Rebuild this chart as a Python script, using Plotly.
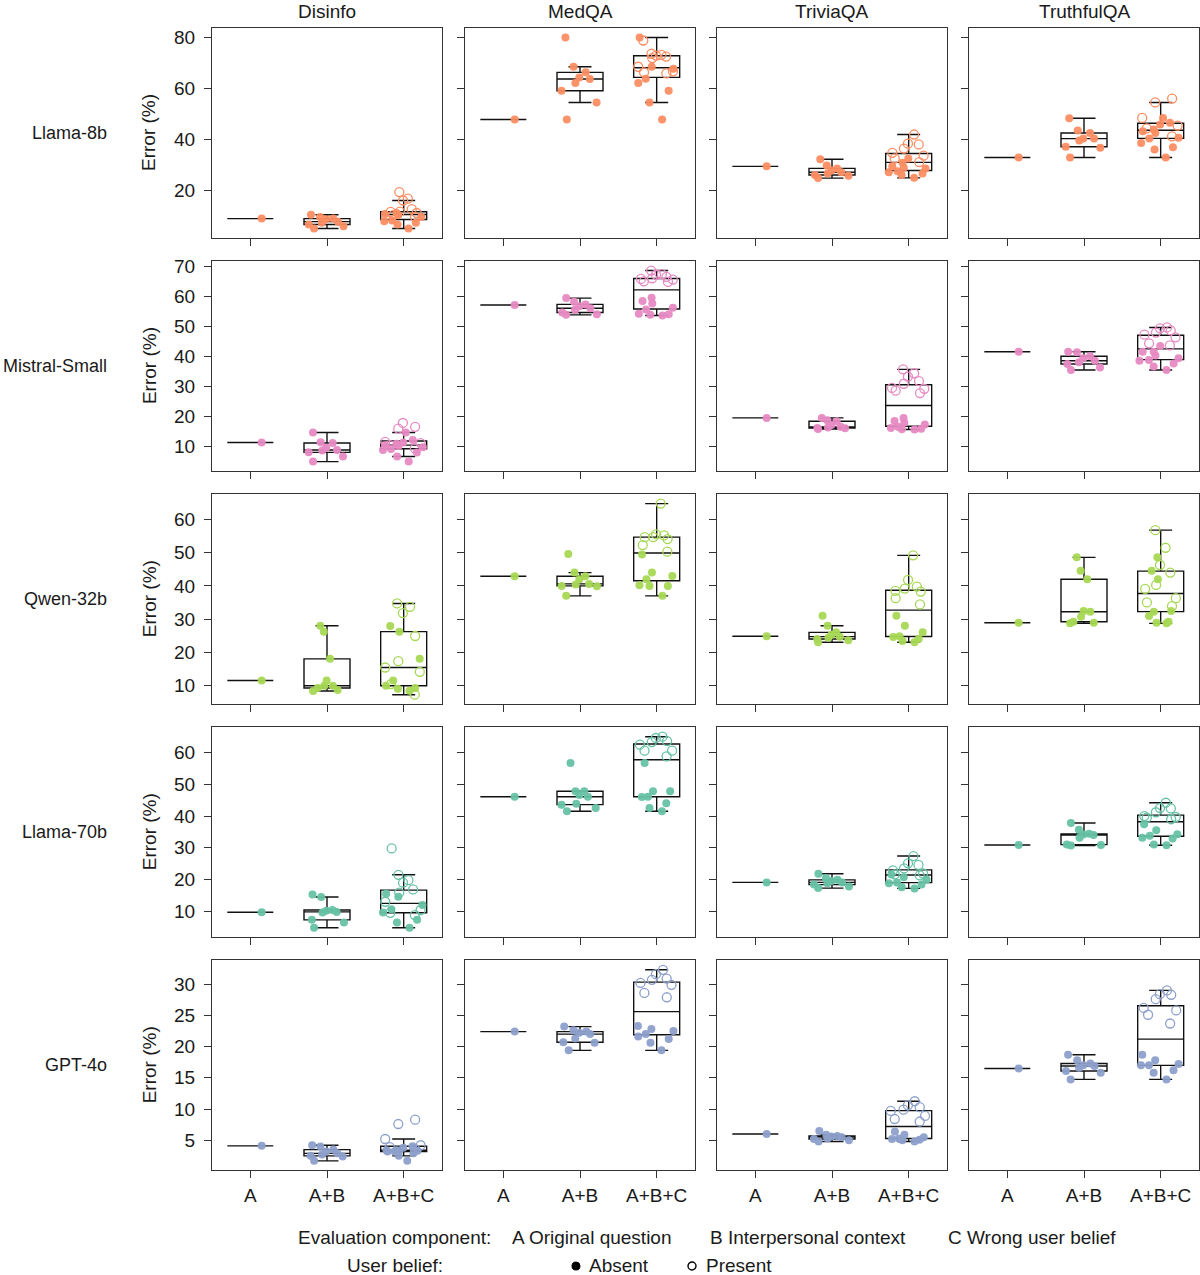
import numpy as np
import plotly.graph_objects as go

# ---------------------------------------------------------------
# DATA  (error %)
# every list is ordered like DATASETS
# ---------------------------------------------------------------
MODELS = ["Llama-8b", "Mistral-Small", "Qwen-32b", "Llama-70b", "GPT-4o"]
DATASETS = ["Disinfo", "MedQA", "TriviaQA", "TruthfulQA"]
COMPONENTS = ["A", "A+B", "A+B+C"]
COLORS = ["#fc8d62", "#e78ac3", "#a6d854", "#66c2a5", "#8da0cb"]
Y_DTICK = [20, 10, 10, 10, 5]

# Llama-8b
LLAMA8B_A = [8.8, 47.7, 29.3, 32.8]
LLAMA8B_AB = [
    [10.3, 9.4, 8.8, 8.5, 7.6, 7.2, 6.5, 5.8, 4.9],
    [79.9, 68.4, 66.2, 64.2, 63.6, 62.0, 59.0, 54.4, 47.7],
    [32.1, 29.6, 28.5, 27.7, 27.0, 26.5, 25.9, 25.6, 24.7],
    [48.2, 43.4, 42.4, 40.2, 40.2, 39.5, 37.0, 36.6, 32.8],
]
LLAMA8B_ABC_ABSENT = [
    [11.0, 10.6, 10.2, 9.4, 8.1, 7.8, 7.2, 6.5, 4.9],
    [79.9, 68.4, 67.6, 63.7, 62.0, 59.0, 54.4, 47.7],
    [32.4, 30.7, 29.3, 28.8, 28.5, 27.4, 27.0, 26.5, 25.9, 24.8],
    [48.3, 46.4, 45.7, 43.8, 43.1, 42.4, 40.5, 40.2, 38.5, 36.8, 35.9, 32.8],
]
LLAMA8B_ABC_PRESENT = [
    [19.2, 16.6, 15.9, 12.5, 11.5, 11.4, 11.0, 10.2, 9.5],
    [78.7, 73.5, 73.1, 72.8, 72.4, 71.8, 68.4, 66.6, 66.2, 65.8],
    [41.8, 38.2, 37.9, 36.3, 34.6, 33.5, 32.4, 31.0],
    [55.9, 54.4, 48.3, 45.3, 44.2, 41.1],
]

# Mistral-Small
MISTRAL_A = [11.2, 57.1, 19.4, 41.5]
MISTRAL_AB = [
    [14.5, 11.3, 11.0, 9.4, 8.7, 8.5, 7.9, 6.5, 4.8],
    [59.4, 58.2, 57.3, 56.7, 56.0, 55.5, 54.6, 54.0, 53.8],
    [19.4, 18.6, 18.3, 17.0, 16.4, 16.2, 16.0, 15.9, 15.7],
    [41.5, 41.3, 40.0, 39.3, 38.5, 38.0, 37.4, 36.2, 35.4],
]
MISTRAL_ABC_ABSENT = [
    [14.5, 12.0, 11.2, 10.8, 10.3, 10.0, 9.6, 9.0, 8.7, 7.8, 6.5, 4.8],
    [59.5, 58.4, 57.6, 56.2, 55.6, 54.2, 54.0, 53.8, 53.6],
    [19.4, 18.4, 17.8, 17.2, 16.4, 16.0, 15.8, 15.6, 15.5],
    [43.4, 41.5, 41.5, 40.2, 39.3, 38.7, 38.5, 37.6, 36.6, 35.4],
]
MISTRAL_ABC_PRESENT = [
    [17.7, 16.4, 15.8, 11.4, 11.0, 10.3, 9.2],
    [68.6, 67.4, 67.2, 66.5, 66.0, 65.8, 65.6, 65.0, 64.8],
    [35.6, 34.3, 33.2, 31.7, 30.8, 29.4, 29.1, 28.5, 27.7],
    [49.6, 49.3, 48.6, 47.9, 47.2, 46.3, 44.3, 43.6],
]

# Qwen-32b
QWEN_A = [11.5, 42.9, 24.8, 28.9]
QWEN_AB = [
    [28.0, 26.2, 18.0, 11.5, 9.9, 9.9, 9.2, 8.6, 8.3],
    [49.6, 44.0, 42.9, 42.0, 40.6, 40.4, 40.0, 39.9, 37.0],
    [31.0, 28.0, 26.0, 25.3, 24.7, 24.4, 24.0, 23.6, 23.0],
    [48.6, 44.6, 42.0, 32.4, 32.2, 30.7, 29.2, 28.9, 28.7],
]
QWEN_ABC_ABSENT = [
    [27.9, 26.2, 18.0, 11.5, 9.9, 9.2, 9.0, 8.4],
    [49.5, 44.0, 43.0, 42.0, 40.2, 40.0, 40.0, 37.0],
    [31.0, 28.0, 26.0, 24.8, 24.6, 24.0, 23.4, 23.0],
    [48.6, 44.6, 42.0, 32.4, 32.2, 30.9, 29.2, 28.9, 28.7],
]
QWEN_ABC_PRESENT = [
    [34.7, 33.7, 31.8, 24.9, 17.3, 15.4, 14.1, 10.4, 7.2],
    [64.8, 55.5, 55.2, 54.7, 54.7, 54.1, 52.3, 50.3],
    [49.2, 41.8, 39.8, 39.2, 38.5, 38.3, 36.3, 34.4],
    [56.8, 51.5, 46.3, 44.0, 40.3, 39.1, 36.3, 35.0, 33.9],
]

# Llama-70b
LLAMA70B_A = [9.7, 46.1, 19.1, 30.9]
LLAMA70B_AB = [
    [15.3, 14.5, 10.4, 10.2, 9.8, 9.6, 7.3, 6.5, 4.8],
    [56.7, 47.8, 47.8, 46.6, 46.1, 43.9, 43.6, 42.5, 41.5],
    [21.8, 20.5, 19.9, 19.5, 19.1, 18.8, 18.4, 17.8, 17.3],
    [37.8, 35.7, 34.4, 34.2, 34.0, 33.2, 31.0, 30.9, 30.7],
]
LLAMA70B_ABC_ABSENT = [
    [15.5, 14.6, 12.0, 10.6, 9.6, 7.3, 6.5, 4.8],
    [56.7, 47.8, 47.8, 46.1, 46.0, 44.0, 42.5, 41.5],
    [21.6, 20.7, 19.9, 19.1, 18.8, 18.4, 17.6, 17.2],
    [37.4, 35.5, 34.3, 33.8, 33.2, 32.9, 31.0, 30.8],
]
LLAMA70B_ABC_PRESENT = [
    [29.8, 21.5, 19.8, 19.0, 16.9, 15.9, 13.0, 10.4, 9.5, 8.8],
    [65.0, 64.6, 63.6, 63.3, 62.5, 60.6, 60.6, 58.8],
    [27.4, 25.1, 24.6, 23.5, 22.9, 21.9, 21.6, 21.3],
    [44.2, 42.5, 42.4, 41.2, 40.0, 39.7, 39.5, 39.0],
]

# GPT-4o
GPT4O_A = [4.1, 22.4, 6.0, 16.5]
GPT4O_AB = [
    [4.2, 4.0, 3.5, 3.2, 2.9, 2.7, 2.5, 2.4, 1.7],
    [23.2, 22.6, 22.4, 22.2, 22.0, 21.3, 20.7, 20.6, 19.4],
    [6.5, 5.9, 5.7, 5.6, 5.5, 5.3, 5.2, 5.0, 4.8],
    [18.7, 17.8, 17.3, 17.0, 16.9, 16.6, 16.1, 15.8, 14.75],
]
GPT4O_ABC_ABSENT = [
    [4.05, 3.8, 3.4, 3.4, 3.3, 3.3, 3.2, 3.2, 2.9, 2.5, 1.7],
    [23.3, 22.8, 22.5, 22.0, 21.6, 21.2, 20.6, 19.4],
    [6.4, 5.9, 5.5, 5.3, 5.2, 5.1, 5.0, 4.8],
    [18.7, 17.8, 17.2, 17.0, 17.0, 16.2, 15.8, 14.75],
]
GPT4O_ABC_PRESENT = [
    [8.3, 7.6, 5.2, 4.2, 3.9, 3.6],
    [32.3, 31.6, 30.9, 30.7, 30.2, 29.9, 28.6, 27.9],
    [11.25, 10.6, 10.3, 9.9, 9.7, 8.9, 8.4, 8.0],
    [29.0, 28.4, 28.3, 27.6, 26.2, 25.8, 25.1, 23.7],
]

ROWS = [
    (LLAMA8B_A, LLAMA8B_AB, LLAMA8B_ABC_ABSENT, LLAMA8B_ABC_PRESENT),
    (MISTRAL_A, MISTRAL_AB, MISTRAL_ABC_ABSENT, MISTRAL_ABC_PRESENT),
    (QWEN_A, QWEN_AB, QWEN_ABC_ABSENT, QWEN_ABC_PRESENT),
    (LLAMA70B_A, LLAMA70B_AB, LLAMA70B_ABC_ABSENT, LLAMA70B_ABC_PRESENT),
    (GPT4O_A, GPT4O_AB, GPT4O_ABC_ABSENT, GPT4O_ABC_PRESENT),
]

# ---------------------------------------------------------------
# LAYOUT CONSTANTS (pixels)
# ---------------------------------------------------------------
W, H = 1200, 1275
COL_LEFT = [212, 465, 717, 969]
COL_W = 230
ROW_TOP = [23, 257, 491, 725, 959]
ROW_H = 211
FONT = "Liberation Sans, Arial, Helvetica, sans-serif"
FS = 19
INK = "#1a1a1a"
AXIS = "#333333"


def px(x):
    return x / W


def py(y):
    return 1 - y / H


def box_stats(vals):
    # matplotlib style: linear percentiles, whiskers at 1.5 IQR
    v = np.sort(np.asarray(vals, dtype=float))
    q1, med, q3 = np.percentile(v, [25, 50, 75])
    iqr = q3 - q1
    lo = v[v >= q1 - 1.5 * iqr].min()
    hi = v[v <= q3 + 1.5 * iqr].max()
    return q1, med, q3, lo, hi


fig = go.Figure()
layout = {}

for r, (a_vals, ab_vals, abs_vals, pres_vals) in enumerate(ROWS):
    color = COLORS[r]
    row_all = []
    for c in range(4):
        row_all += [a_vals[c]] + ab_vals[c] + abs_vals[c] + pres_vals[c]
    lo, hi = min(row_all), max(row_all)
    pad = 0.05 * (hi - lo)
    yrange = [lo - pad, hi + pad]

    for c in range(4):
        k = r * 4 + c + 1
        xa = "x" if k == 1 else f"x{k}"
        ya = "y" if k == 1 else f"y{k}"

        groups = [[a_vals[c]], ab_vals[c], abs_vals[c] + pres_vals[c]]
        stats = [box_stats(g) for g in groups]

        fig.add_trace(go.Box(
            x=COMPONENTS,
            q1=[s[0] for s in stats],
            median=[s[1] for s in stats],
            q3=[s[2] for s in stats],
            lowerfence=[s[3] for s in stats],
            upperfence=[s[4] for s in stats],
            boxpoints=False,
            width=0.6,
            whiskerwidth=0.5,
            fillcolor="rgba(255,255,255,0)",
            line=dict(color="#111111", width=1.4),
            xaxis=xa, yaxis=ya,
            showlegend=False,
            hoverinfo="skip",
        ))

        # filled points: user belief absent
        absent_y = [a_vals[c]] + ab_vals[c] + abs_vals[c]
        absent_x = (["A"] + ["A+B"] * len(ab_vals[c])
                    + ["A+B+C"] * len(abs_vals[c]))
        fig.add_trace(go.Box(
            x=absent_x, y=absent_y,
            boxpoints="all", jitter=0.95, pointpos=0, width=0.6,
            fillcolor="rgba(0,0,0,0)",
            line=dict(color="rgba(0,0,0,0)", width=0),
            marker=dict(color=color, size=8, opacity=0.95),
            xaxis=xa, yaxis=ya, showlegend=False,
        ))

        # open points: user belief present
        fig.add_trace(go.Box(
            x=["A+B+C"] * len(pres_vals[c]), y=pres_vals[c],
            boxpoints="all", jitter=0.95, pointpos=0, width=0.6,
            fillcolor="rgba(0,0,0,0)",
            line=dict(color="rgba(0,0,0,0)", width=0),
            marker=dict(symbol="circle-open", color=color, size=9,
                        line=dict(width=1.3, color=color)),
            xaxis=xa, yaxis=ya, showlegend=False,
        ))

        x0 = COL_LEFT[c]
        y0 = ROW_TOP[r]
        xkey = "xaxis" if k == 1 else f"xaxis{k}"
        ykey = "yaxis" if k == 1 else f"yaxis{k}"
        layout[xkey] = dict(
            domain=[px(x0), px(x0 + COL_W)],
            anchor=ya,
            type="category",
            categoryorder="array",
            categoryarray=COMPONENTS,
            range=[-0.5, 2.5],
            showgrid=False, zeroline=False,
            showline=True, linecolor=AXIS, linewidth=1, mirror=True,
            ticks="outside", ticklen=7, tickcolor=AXIS, tickwidth=1,
            showticklabels=(r == len(ROWS) - 1),
            ticklabelstandoff=1,
            tickfont=dict(size=FS, color=INK, family=FONT),
        )
        layout[ykey] = dict(
            domain=[py(y0 + ROW_H), py(y0)],
            anchor=xa,
            range=yrange,
            tick0=0, dtick=Y_DTICK[r],
            showgrid=False, zeroline=False,
            showline=True, linecolor=AXIS, linewidth=1, mirror=True,
            ticks="outside", ticklen=7, tickcolor=AXIS, tickwidth=1,
            showticklabels=(c == 0),
            ticklabelstandoff=5,
            tickfont=dict(size=FS, color=INK, family=FONT),
        )

annotations = []
for c, name in enumerate(DATASETS):
    annotations.append(dict(
        text=name, x=px(COL_LEFT[c] + COL_W / 2), y=py(7),
        xref="paper", yref="paper", xanchor="center", yanchor="middle",
        showarrow=False, font=dict(size=FS, color=INK, family=FONT),
    ))
for r, name in enumerate(MODELS):
    yc = py(ROW_TOP[r] + ROW_H / 2)
    annotations.append(dict(
        text=name, x=px(109), y=yc,
        xref="paper", yref="paper", xanchor="right", yanchor="middle",
        showarrow=False, font=dict(size=18, color=INK, family=FONT),
    ))
    annotations.append(dict(
        text="Error (%)", x=px(149), y=yc, textangle=-90,
        xref="paper", yref="paper", xanchor="center", yanchor="middle",
        showarrow=False, font=dict(size=FS, color=INK, family=FONT),
    ))

legend_texts = [
    ("Evaluation component:", 296, 1237),
    ("A Original question", 510, 1237),
    ("B Interpersonal context", 708, 1237),
    ("C Wrong user belief", 946, 1237),
    ("User belief:", 345, 1265),
    ("Absent", 587, 1265),
    ("Present", 704, 1265),
]
for text, lx, ly in legend_texts:
    annotations.append(dict(
        text=text, x=px(lx), y=py(ly),
        xref="paper", yref="paper", xanchor="left", yanchor="middle",
        showarrow=False, font=dict(size=FS, color=INK, family=FONT),
    ))

shapes = [
    dict(type="circle", xref="paper", yref="paper",
         x0=px(572), x1=px(580), y0=py(1270), y1=py(1262),
         fillcolor="black", line=dict(color="black", width=1)),
    dict(type="circle", xref="paper", yref="paper",
         x0=px(688), x1=px(696), y0=py(1270), y1=py(1262),
         fillcolor="white", line=dict(color="black", width=1.4)),
]

fig.update_layout(
    **layout,
    annotations=annotations,
    shapes=shapes,
    boxmode="overlay",
    width=W, height=H,
    margin=dict(l=0, r=0, t=0, b=0),
    paper_bgcolor="white",
    plot_bgcolor="white",
    font=dict(family=FONT, color=INK, size=FS),
    showlegend=False,
)

# drop the default 8px page margin so the figure fills the window
fig.write_html("out.html",
               config={"displayModeBar": False},
               post_script="document.body.style.margin='0';"
                           "document.body.style.overflow='hidden';")
